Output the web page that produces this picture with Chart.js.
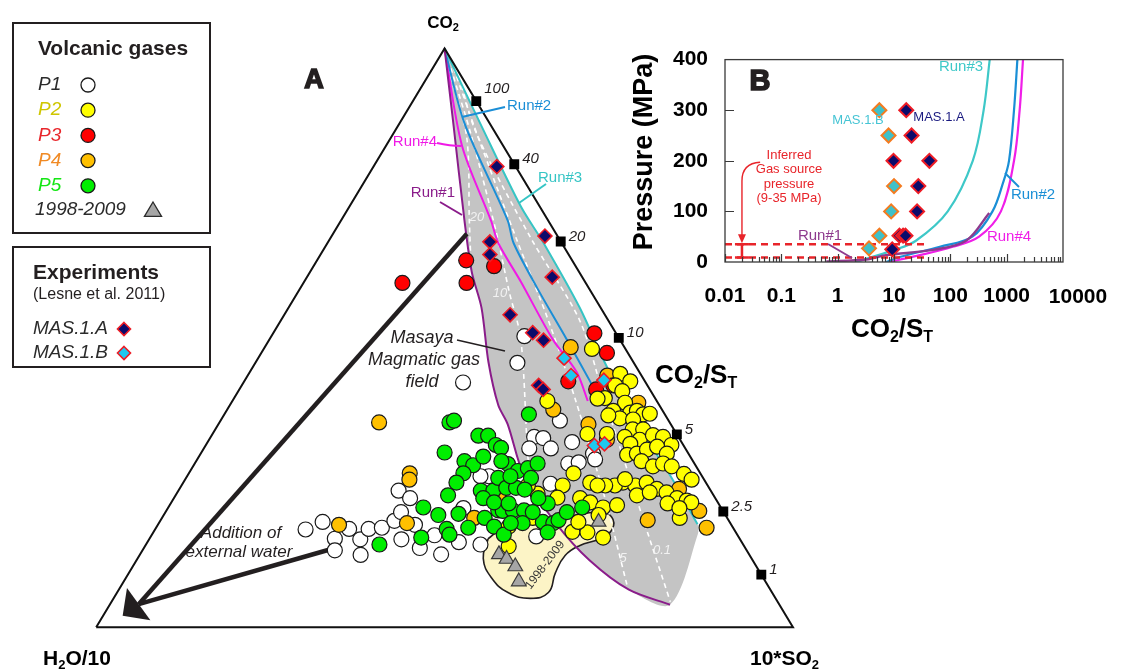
<!DOCTYPE html>
<html lang="en">
<head>
<meta charset="utf-8">
<title>Masaya volcanic gases</title>
<script src="https://cdn.jsdelivr.net/npm/chart.js@4.4.1/dist/chart.umd.min.js"></script>
<style>
  html, body { margin: 0; padding: 0; background: #fff; }
  #quadro { position: relative; width: 1127px; height: 670px; overflow: hidden; }
  #graficoTernario { position: absolute; left: 0; top: 0; }
  #graficoPressao { position: absolute; left: 600px; top: 30px; }
</style>
</head>
<body>
<div id="quadro">
  <canvas id="graficoTernario" width="1127" height="670"></canvas>
  <canvas id="graficoPressao" width="527" height="340"></canvas>
</div>
<script>
const FONTE = '"Liberation Sans", Arial, sans-serif';

// ---------------------------------------------------------------------------
// Diagrama A - composicoes em % de [CO2, 10*SO2]; H2O/10 e o restante
// ---------------------------------------------------------------------------
const p1Brancos = [
  [42.3, 31.5], [45.7, 37.6], [50.3, 36.3], [35.7, 48.7], [32.9, 46.4], [32.7, 47.8],
  [30.9, 46.7], [30.9, 49.8], [32.0, 52.3], [30.0, 56.3], [28.3, 53.6], [28.5, 55.0],
  [29.0, 57.1], [24.8, 52.8], [15.7, 55.3], [26.1, 43.3], [16.9, 21.6], [18.2, 23.4],
  [15.3, 26.6], [13.3, 27.6], [17.0, 27.8], [15.2, 30.3], [12.5, 31.7], [17.0, 30.6],
  [17.2, 32.4], [18.4, 33.6], [23.6, 31.6], [22.3, 33.9], [19.9, 33.8], [15.2, 36.2],
  [17.7, 36.9], [13.7, 39.6], [15.9, 40.6], [12.6, 43.2], [14.7, 44.7], [20.6, 42.4],
  [14.3, 48.0], [26.1, 42.1]
];

const p2Amarelos = [
  [48.1, 47.1], [43.8, 53.3], [41.8, 53.6], [42.5, 55.4], [39.6, 53.2], [40.8, 55.1],
  [39.5, 52.2], [38.8, 56.5], [37.4, 55.5], [37.1, 58.1], [37.4, 58.9], [36.8, 60.1],
  [36.9, 61.0], [36.1, 57.1], [35.9, 59.1], [36.6, 55.2], [33.4, 53.8], [34.2, 59.9],
  [34.2, 61.4], [33.4, 56.6], [32.9, 59.4], [32.4, 61.8], [33.2, 63.3], [32.9, 64.9],
  [31.5, 66.8], [31.7, 60.8], [29.8, 61.3], [30.0, 62.6], [30.7, 63.7], [31.2, 64.9],
  [30.0, 66.9], [28.7, 63.9], [27.8, 66.0], [28.3, 67.2], [27.8, 68.7], [26.5, 71.1],
  [25.5, 72.7], [25.0, 63.1], [24.5, 65.1], [25.0, 66.5], [23.9, 68.5], [23.3, 70.2],
  [22.3, 72.2], [21.9, 73.8], [22.8, 66.2], [23.3, 67.8], [18.9, 74.3], [24.5, 62.2],
  [24.5, 60.8], [25.6, 63.1], [15.5, 65.0], [21.6, 74.6], [21.4, 71.3], [20.6, 73.4],
  [24.5, 54.7], [22.4, 55.0], [25.0, 58.4], [24.5, 59.7], [22.3, 58.3], [21.6, 60.1],
  [20.7, 62.4], [21.1, 64.2], [16.5, 60.1], [16.4, 62.3], [18.2, 60.1], [19.4, 62.4],
  [26.6, 55.2], [17.4, 50.5], [14.0, 52.2], [18.9, 53.2], [23.1, 51.8], [24.5, 49.7],
  [39.1, 45.2]
];

const p3Vermelhos = [
  [59.5, 14.2], [63.4, 21.4], [59.5, 23.4], [62.4, 25.9], [50.8, 46.1], [47.4, 49.6],
  [42.5, 46.5], [41.1, 51.2], [41.8, 53.3]
];

const p4Laranjas = [
  [35.4, 22.9], [26.6, 31.7], [25.5, 32.2], [17.7, 26.0], [18.0, 35.6], [18.9, 44.8],
  [48.4, 43.9], [37.6, 46.8], [35.1, 53.1], [32.4, 57.1], [23.9, 71.7], [20.1, 76.5],
  [17.2, 79.0], [18.5, 69.9], [43.5, 51.6], [36.8, 55.4], [38.8, 58.4], [22.8, 46.3]
];

const p5Verdes = [
  [35.4, 33.0], [35.7, 33.5], [33.1, 38.3], [33.1, 39.7], [31.5, 41.6], [31.0, 42.6],
  [30.2, 34.9], [28.7, 38.5], [28.0, 40.1], [29.5, 40.8], [26.6, 39.4], [25.0, 39.2],
  [22.8, 39.1], [23.6, 43.4], [23.6, 45.2], [22.3, 44.4], [20.7, 36.6], [19.4, 39.4],
  [19.6, 42.2], [18.9, 46.3], [17.4, 48.4], [17.0, 41.8], [16.0, 42.7], [17.2, 44.8],
  [15.5, 38.9], [14.3, 33.5], [20.2, 47.6], [28.2, 45.0], [27.0, 47.0], [27.5, 48.2],
  [28.3, 49.2], [25.8, 49.5], [25.8, 44.8], [24.1, 46.8], [24.1, 48.2], [23.8, 49.6],
  [20.1, 48.3], [20.2, 49.7], [20.2, 51.3], [18.0, 52.2], [18.2, 55.0], [21.4, 54.1],
  [18.0, 56.6], [16.4, 56.6], [16.0, 50.5], [22.3, 52.3], [19.9, 52.7], [36.8, 43.7],
  [26.1, 46.4], [21.6, 46.3], [21.4, 48.5], [18.5, 57.1], [19.9, 57.6], [20.7, 59.4],
  [18.0, 50.5], [28.7, 43.8]
];

const serie1998a2009 = [[12.6, 51.5], [11.8, 53.0], [10.5, 54.9], [7.9, 56.7], [18.2, 63.0]];

const mas1A = [
  [79.6, 17.7], [67.6, 30.6], [66.6, 23.2], [64.4, 24.3], [60.5, 35.2], [54.0, 32.4],
  [50.9, 37.2], [49.6, 39.4], [41.8, 42.6], [41.1, 43.6]
];
const mas1B = [[46.5, 43.9], [43.5, 46.4], [42.7, 51.5], [31.4, 55.8], [31.7, 57.1]];

// curvas dos modelos (Run#1 a Run#4)
const run1 = [
  [100, 0], [86.6, 8.0], [70.3, 17.7], [61.4, 23.2], [55.2, 27.7], [45.8, 33.4], [38.4, 38.5],
  [35.1, 41.5], [26.2, 48.3], [17.8, 57.2], [11.6, 65.0], [6.5, 73.2], [3.9, 80.4]
];
const run2 = [[100, 0], [87.1, 9.3], [70.3, 23.9], [66.4, 26.7], [58.6, 34.0], [49.7, 42.7], [41.8, 50.3]];
const run3 = [
  [100, 0], [86.6, 12.0], [72.7, 24.6], [66.4, 31.0], [55.2, 41.8], [45.1, 50.7],
  [34.6, 60.6], [26.2, 69.3], [17.8, 77.4]
];
const run4 = [[100, 0], [83.2, 10.9], [70.3, 21.5], [66.4, 24.5], [59.7, 31.1], [49.7, 40.7], [44.1, 46.9], [39.1, 51.0]];
const cantoCampo = [16.1, 78.3];

// linhas tracejadas brancas (20, 10, 5 e 0.1)
const iso20 = [[96.6, 2.2], [84.9, 10.7], [70.3, 18.4], [63.9, 21.8]];
const iso10 = [[96.6, 2.6], [84.9, 11.4], [68.1, 23.4], [58.1, 30.2], [49.7, 36.1], [30.0, 46.9], [28.2, 48.0]];
const iso5 = [[96.6, 3.0], [84.9, 12.3], [67.3, 26.6], [53.0, 38.4], [39.6, 48.9], [22.8, 61.5], [7.2, 72.6]];
const iso01 = [[96.6, 3.5], [85.7, 11.6], [67.3, 28.7], [53.0, 42.9], [39.6, 53.1], [21.1, 67.3], [4.4, 80.2]];

// campo 1998-2009
const mancha1998 = [
  [15.3, 48.6], [11.9, 49.6], [8.6, 52.4], [6.0, 56.1], [5.0, 59.8], [6.0, 61.9], [9.4, 61.2],
  [12.4, 61.1], [14.1, 62.3], [15.3, 64.6], [16.9, 65.6], [19.1, 64.4], [19.8, 62.3],
  [19.5, 59.6], [18.6, 57.3], [17.8, 53.4], [16.9, 49.7], [15.3, 48.6]
];

// escala CO2/ST no lado direito
const razoesCO2ST = [100, 40, 20, 10, 5, 2.5, 1];

// setas "Addition of external water"
const setaLonga = [[68.0, 19.2], [4.0, 4.1]];
const setaCurta = [[13.4, 26.7], [4.0, 4.1]];
const setaPonta = [2.0, 2.8];

// ---------------------------------------------------------------------------
// Painel B - pressao (MPa) x CO2/ST
// ---------------------------------------------------------------------------
const decadasCO2ST = [0.01, 0.1, 1, 10, 100, 1000, 10000];
const run1B = [[0.63, 1], [3.2, 5], [7.2, 13.5], [48.6, 24], [190, 42], [490, 97]];
const run2B = [[7.3, 0], [12.6, 10], [65, 30], [246, 50], [560, 100], [870, 158], [1100, 200], [1350, 300], [1550, 400]];
const run3B = [[2.1, 0], [9.5, 23], [24.5, 42], [90, 100], [250, 200], [390, 300], [500, 400]];
const run4B = [[8.3, 0], [21, 10], [110, 30], [324, 50], [790, 100], [1350, 200], [1700, 300], [1950, 400]];
const mas1BPressao = [[5.5, 300], [8, 250], [10, 150], [8.9, 100], [5.5, 52], [3.6, 27]];
const mas1APressao = [[16.5, 300], [20.5, 250], [9.8, 200], [42.5, 200], [27, 150], [25.7, 100], [12.5, 52], [14.5, 52], [16, 52], [9.3, 25]];
const pressaoFonte = [9, 35];
const fimTracejado = [42, 38];
const razaoBarra = 0.02;

// ---------------------------------------------------------------------------
// Utilitarios
// ---------------------------------------------------------------------------
const ternario = pares => pares.map(([co2, so2]) => ({ x: so2 + co2 / 2, y: co2 }));

function pontos(pares, cor, ordem, estilo = 'circle', raio = 7.5, borda = '#1a1a1a', larg = 1.2) {
  return {
    type: 'scatter', data: ternario(pares), pointStyle: estilo, pointRadius: raio,
    pointHoverRadius: raio, pointBackgroundColor: cor, pointBorderColor: borda,
    pointBorderWidth: larg, order: ordem
  };
}

function linha(pares, cor, larg, ordem, extra = {}) {
  return Object.assign({
    type: 'line', data: ternario(pares), borderColor: cor, borderWidth: larg,
    pointRadius: 0, fill: false, tension: 0.3, order: ordem
  }, extra);
}

function escreve(ctx, texto, x, y, fonte, cor, alinh = 'center') {
  ctx.font = fonte;
  ctx.fillStyle = cor;
  ctx.textAlign = alinh;
  ctx.textBaseline = 'middle';
  ctx.fillText(texto, x, y);
}

// texto com indices (CO2, ST...) - partes: [texto, ehIndice]
function escreveIndice(ctx, partes, x, y, tam, alinh = 'left') {
  const base = `bold ${tam}px ${FONTE}`;
  const peq = `bold ${Math.round(tam * 0.62)}px ${FONTE}`;
  let largura = 0;
  partes.forEach(([t, sub]) => { ctx.font = sub ? peq : base; largura += ctx.measureText(t).width; });
  let cx = alinh === 'center' ? x - largura / 2 : x;
  ctx.textAlign = 'left';
  ctx.textBaseline = 'alphabetic';
  ctx.fillStyle = '#000';
  partes.forEach(([t, sub]) => {
    ctx.font = sub ? peq : base;
    ctx.fillText(t, cx, sub ? y + tam * 0.2 : y);
    cx += ctx.measureText(t).width;
  });
}

function marcador(ctx, estilo, x, y, r, cor, borda, larg) {
  ctx.beginPath();
  if (estilo === 'circle') {
    ctx.arc(x, y, r, 0, Math.PI * 2);
  } else if (estilo === 'triangle') {
    ctx.moveTo(x, y - r);
    ctx.lineTo(x + r * 0.95, y + r * 0.6);
    ctx.lineTo(x - r * 0.95, y + r * 0.6);
    ctx.closePath();
  } else {
    ctx.moveTo(x, y - r); ctx.lineTo(x + r, y); ctx.lineTo(x, y + r); ctx.lineTo(x - r, y);
    ctx.closePath();
  }
  ctx.fillStyle = cor; ctx.fill();
  ctx.strokeStyle = borda; ctx.lineWidth = larg; ctx.stroke();
}

// ---------------------------------------------------------------------------
// Legendas, rotulos e seta do diagrama A
// ---------------------------------------------------------------------------
const gruposVulcanicos = [
  { nome: 'P1', cor: '#ffffff', corTexto: '#2b2b2b' },
  { nome: 'P2', cor: '#ffff00', corTexto: '#cfc600' },
  { nome: 'P3', cor: '#ff0000', corTexto: '#e8262b' },
  { nome: 'P4', cor: '#ffc000', corTexto: '#f08a24' },
  { nome: 'P5', cor: '#00ee00', corTexto: '#14e614' }
];

const decoracaoA = {
  id: 'decoracaoA',
  afterDatasetsDraw(chart) {
    const { ctx, scales: { x, y } } = chart;
    const pt = (c, s) => ({ x: x.getPixelForValue(s + c / 2), y: y.getPixelForValue(c) });
    ctx.save();

    // ponta da seta
    const base = pt(setaLonga[1][0], setaLonga[1][1]);
    const ponta = pt(setaPonta[0], setaPonta[1]);
    const dx = ponta.x - base.x, dy = ponta.y - base.y, n = Math.hypot(dx, dy);
    const nx = -dy / n, ny = dx / n, meia = 20;
    ctx.fillStyle = '#231f20';
    ctx.beginPath();
    ctx.moveTo(ponta.x, ponta.y);
    ctx.lineTo(base.x + nx * meia, base.y + ny * meia);
    ctx.lineTo(base.x - nx * meia, base.y - ny * meia);
    ctx.closePath();
    ctx.fill();

    // valores de CO2/ST ao lado dos quadrados
    razoesCO2ST.forEach((r, i) => {
      const p = pt(100 * r / (r + 10), 1000 / (r + 10));
      escreve(ctx, String(r), p.x + 8, p.y - (i === 0 ? 12 : 5), `italic 15px ${FONTE}`, '#231f20', 'left');
    });

    // rotulos das linhas tracejadas
    const cinzaClaro = '#f2f2f2';
    escreve(ctx, '20', 477, 217, `italic 13px ${FONTE}`, cinzaClaro);
    escreve(ctx, '10', 500, 293, `italic 13px ${FONTE}`, cinzaClaro);
    escreve(ctx, '5', 623, 558, `italic 13px ${FONTE}`, cinzaClaro);
    escreve(ctx, '0.1', 662, 550, `italic 13px ${FONTE}`, cinzaClaro);

    // rotulos dos modelos e linhas de chamada
    ctx.lineWidth = 2;
    ctx.strokeStyle = '#1b8ed6';
    ctx.beginPath(); ctx.moveTo(462, 117); ctx.lineTo(505, 107); ctx.stroke();
    escreve(ctx, 'Run#2', 507, 106, `15px ${FONTE}`, '#1b8ed6', 'left');

    ctx.strokeStyle = '#f019e6';
    ctx.beginPath(); ctx.moveTo(437, 143); ctx.quadraticCurveTo(450, 146, 461, 146); ctx.stroke();
    escreve(ctx, 'Run#4', 437, 142, `15px ${FONTE}`, '#f019e6', 'right');

    ctx.strokeStyle = '#8a1c8a';
    ctx.beginPath(); ctx.moveTo(440, 202); ctx.lineTo(462, 215); ctx.stroke();
    escreve(ctx, 'Run#1', 455, 193, `15px ${FONTE}`, '#8a1c8a', 'right');

    ctx.strokeStyle = '#36c5c5';
    ctx.beginPath(); ctx.moveTo(519, 203); ctx.lineTo(546, 184); ctx.stroke();
    escreve(ctx, 'Run#3', 538, 178, `15px ${FONTE}`, '#36c5c5', 'left');

    // campo magmatico
    ctx.strokeStyle = '#231f20';
    ctx.lineWidth = 1.5;
    ctx.beginPath(); ctx.moveTo(457, 340); ctx.lineTo(505, 351); ctx.stroke();
    escreve(ctx, 'Masaya', 422, 338, `italic 18px ${FONTE}`, '#231f20');
    escreve(ctx, 'Magmatic gas', 424, 360, `italic 18px ${FONTE}`, '#231f20');
    escreve(ctx, 'field', 422, 382, `italic 18px ${FONTE}`, '#231f20');

    escreve(ctx, 'Addition of', 241, 533, `italic 17px ${FONTE}`, '#231f20');
    escreve(ctx, 'external water', 239, 552, `italic 17px ${FONTE}`, '#231f20');

    ctx.save();
    ctx.translate(545, 565);
    ctx.rotate(-53 * Math.PI / 180);
    escreve(ctx, '1998-2009', 0, 0, `12px ${FONTE}`, '#3a3a3a');
    ctx.restore();

    // vertices e titulo
    escreveIndice(ctx, [['CO', false], ['2', true]], 443, 28, 17, 'center');
    escreveIndice(ctx, [['H', false], ['2', true], ['O/10', false]], 43, 665, 21);
    escreveIndice(ctx, [['10*SO', false], ['2', true]], 750, 665, 21);
    escreveIndice(ctx, [['CO', false], ['2', true], ['/S', false], ['T', true]], 655, 383, 26);

    ctx.font = `900 27px ${FONTE}`;
    ctx.textAlign = 'center'; ctx.textBaseline = 'middle';
    ctx.fillStyle = '#231f20'; ctx.strokeStyle = '#231f20'; ctx.lineWidth = 1.6;
    ctx.strokeText('A', 314, 81);
    ctx.fillText('A', 314, 81);

    ctx.restore();
  },

  afterDraw(chart) {
    const ctx = chart.ctx;
    ctx.save();
    ctx.lineWidth = 2;
    ctx.strokeStyle = '#231f20';
    ctx.strokeRect(13, 23, 197, 210);
    ctx.strokeRect(13, 247, 197, 120);

    escreve(ctx, 'Volcanic gases', 113, 49, `bold 21px ${FONTE}`, '#231f20');
    gruposVulcanicos.forEach((g, i) => {
      const yy = 85 + i * 25.2;
      escreve(ctx, g.nome, 38, yy, `italic 19px ${FONTE}`, g.corTexto, 'left');
      marcador(ctx, 'circle', 88, yy, 7, g.cor, '#1a1a1a', 1.3);
    });
    escreve(ctx, '1998-2009', 35, 210, `italic 19px ${FONTE}`, '#2b2b2b', 'left');
    marcador(ctx, 'triangle', 153, 211, 9, '#a6a6a6', '#2b2b2b', 1.3);

    escreve(ctx, 'Experiments', 33, 273, `bold 21px ${FONTE}`, '#231f20', 'left');
    escreve(ctx, '(Lesne et al. 2011)', 33, 295, `16px ${FONTE}`, '#231f20', 'left');
    escreve(ctx, 'MAS.1.A', 33, 329, `italic 19px ${FONTE}`, '#2b2b2b', 'left');
    marcador(ctx, 'diamond', 124, 329, 6.5, '#0b0b6b', '#ee1c25', 1.6);
    escreve(ctx, 'MAS.1.B', 33, 353, `italic 19px ${FONTE}`, '#2b2b2b', 'left');
    marcador(ctx, 'diamond', 124, 353, 6.5, '#1ec8f0', '#ee1c25', 1.6);
    ctx.restore();
  }
};

// ---------------------------------------------------------------------------
// Diagrama A
// ---------------------------------------------------------------------------
const campoMagmatico = run1.concat([cantoCampo], run3.slice().reverse());
const ladosTriangulo = [[0, 0], [0, 100], [100, 0], [0, 0]];
const quadradosRazao = razoesCO2ST.map(r => [100 * r / (r + 10), 1000 / (r + 10)]);

const graficoTernario = new Chart(document.getElementById('graficoTernario'), {
  type: 'scatter',
  data: {
    datasets: [
      linha(campoMagmatico, 'rgba(0,0,0,0)', 0, 100, { fill: 'shape', backgroundColor: '#c4c4c4' }),
      linha(mancha1998, '#231f20', 1.6, 95, { fill: 'shape', backgroundColor: '#fcf4c6', tension: 0.45 }),
      linha(iso20, '#ffffff', 1.6, 90, { borderDash: [5, 4] }),
      linha(iso10, '#ffffff', 1.6, 90, { borderDash: [5, 4] }),
      linha(iso5, '#ffffff', 1.6, 90, { borderDash: [5, 4] }),
      linha(iso01, '#ffffff', 1.6, 90, { borderDash: [5, 4] }),
      linha(run1, '#8a1c8a', 2, 85),
      linha(run3, '#36c5c5', 2, 85),
      linha(run2, '#1b8ed6', 2, 85),
      linha(run4, '#f019e6', 2, 85),
      linha(ladosTriangulo, '#111111', 2, 80, { tension: 0 }),
      linha(setaLonga, '#231f20', 4.5, 78, { tension: 0 }),
      linha(setaCurta, '#231f20', 4.5, 78, { tension: 0 }),
      pontos(p1Brancos, '#ffffff', 70),
      pontos(p4Laranjas, '#ffc000', 65),
      pontos(p3Vermelhos, '#ff0000', 60),
      pontos(p2Amarelos, '#ffff00', 55),
      pontos(p5Verdes, '#00ee00', 50),
      pontos(mas1A, '#0b0b6b', 20, 'rectRot', 7, '#ee1c25', 1.6),
      pontos(mas1B, '#1ec8f0', 20, 'rectRot', 7, '#ee1c25', 1.6),
      pontos(serie1998a2009, '#a6a6a6', 15, 'triangle', 8.5, '#3a3a3a', 1.2),
      pontos(quadradosRazao, '#000000', 5, 'rect', 7, '#000000', 0)
    ]
  },
  options: {
    responsive: false,
    animation: false,
    devicePixelRatio: 1,
    layout: { padding: 0 },
    events: [],
    plugins: { legend: { display: false }, tooltip: { enabled: false } },
    scales: {
      x: { type: 'linear', display: false, min: -12.412, max: 146.544 },
      y: { type: 'linear', display: false, min: -5.7047, max: 106.711 }
    }
  },
  plugins: [decoracaoA]
});

// ---------------------------------------------------------------------------
// Painel B
// ---------------------------------------------------------------------------
const molduraB = {
  id: 'molduraB',
  afterDatasetsDraw(chart) {
    const { ctx, chartArea: a, scales: { x, y } } = chart;
    ctx.save();
    ctx.strokeStyle = '#3a3a3a';
    ctx.lineWidth = 1.3;
    ctx.strokeRect(a.left, a.top, a.right - a.left, a.bottom - a.top);

    // marcas internas
    ctx.beginPath();
    [100, 200, 300].forEach(v => {
      const py = Math.round(y.getPixelForValue(v)) + 0.5;
      ctx.moveTo(a.left, py); ctx.lineTo(a.left + 9, py);
    });
    decadasCO2ST.slice(0, -1).forEach(d => {
      for (let k = 1; k < 10; k++) {
        const px = Math.round(x.getPixelForValue(d * k)) + 0.5;
        ctx.moveTo(px, a.bottom); ctx.lineTo(px, a.bottom - (k === 1 ? 8 : 5));
      }
    });
    ctx.lineWidth = 1.2;
    ctx.stroke();

    // seta da pressao inferida
    const x0 = x.getPixelForValue(razaoBarra);
    const yTopo = y.getPixelForValue(pressaoFonte[1]);
    ctx.strokeStyle = '#e8242a';
    ctx.fillStyle = '#e8242a';
    ctx.lineWidth = 1.4;
    ctx.beginPath();
    ctx.moveTo(x.getPixelForValue(0.042), y.getPixelForValue(197));
    ctx.quadraticCurveTo(x0, y.getPixelForValue(195), x0, y.getPixelForValue(160));
    ctx.lineTo(x0, yTopo - 8);
    ctx.stroke();
    ctx.beginPath();
    ctx.moveTo(x0, yTopo - 1); ctx.lineTo(x0 - 4, yTopo - 10); ctx.lineTo(x0 + 4, yTopo - 10);
    ctx.closePath(); ctx.fill();

    ctx.translate(-600, -30);
    const f13 = `13px ${FONTE}`;
    escreve(ctx, 'Inferred', 789, 155, f13, '#e8242a');
    escreve(ctx, 'Gas source', 789, 169, f13, '#e8242a');
    escreve(ctx, 'pressure', 789, 184, f13, '#e8242a');
    escreve(ctx, '(9-35 MPa)', 789, 198, f13, '#e8242a');

    escreve(ctx, 'MAS.1.B', 858, 120, f13, '#45c4d4');
    escreve(ctx, 'MAS.1.A', 939, 117, f13, '#1a1a80');

    const f15 = `15px ${FONTE}`;
    escreve(ctx, 'Run#3', 961, 67, f15, '#3ec8c8');
    escreve(ctx, 'Run#2', 1033, 195, f15, '#1a8fd6');
    escreve(ctx, 'Run#4', 1009, 237, f15, '#f01ee8');
    escreve(ctx, 'Run#1', 820, 236, f15, '#8e3a8e');
    ctx.lineWidth = 2;
    ctx.strokeStyle = '#1a8fd6';
    ctx.beginPath(); ctx.moveTo(1005, 173); ctx.lineTo(1019, 187); ctx.stroke();
    ctx.strokeStyle = '#8e3a8e';
    ctx.beginPath(); ctx.moveTo(828, 244); ctx.lineTo(852, 258); ctx.stroke();

    ctx.font = `900 29px ${FONTE}`;
    ctx.textAlign = 'center'; ctx.textBaseline = 'middle';
    ctx.fillStyle = '#231f20'; ctx.strokeStyle = '#231f20'; ctx.lineWidth = 1.6;
    ctx.strokeText('B', 760, 82);
    ctx.fillText('B', 760, 82);
    ctx.restore();
  },
  afterDraw(chart) {
    const ctx = chart.ctx;
    ctx.save();
    ctx.translate(-600, -30);
    // o ultimo rotulo do eixo fica deslocado para a direita, fora da moldura
    escreve(ctx, '10000', 1078, 297, `bold 21px ${FONTE}`, '#000');
    escreveIndice(ctx, [['CO', false], ['2', true], ['/S', false], ['T', true]], 892, 337, 26, 'center');
    ctx.translate(645, 152);
    ctx.rotate(-Math.PI / 2);
    escreve(ctx, 'Pressure (MPa)', 0, 0, `bold 27px ${FONTE}`, '#000');
    ctx.restore();
  }
};

const serieB = (pares, cor, larg, ordem, extra = {}) => Object.assign({
  type: 'line', data: pares.map(([x, y]) => ({ x, y })), borderColor: cor, borderWidth: larg,
  pointRadius: 0, tension: 0.35, fill: false, order: ordem
}, extra);

const pontosB = (pares, cor, borda, ordem) => ({
  type: 'scatter', data: pares.map(([x, y]) => ({ x, y })), pointStyle: 'rectRot', pointRadius: 7,
  pointHoverRadius: 7, pointBackgroundColor: cor, pointBorderColor: borda, pointBorderWidth: 2, order: ordem
});

const graficoPressao = new Chart(document.getElementById('graficoPressao'), {
  type: 'scatter',
  data: {
    datasets: [
      serieB(run3B, '#3ec8c8', 2.2, 30),
      serieB(run2B, '#1a8fd6', 2.2, 30),
      serieB(run4B, '#f01ee8', 2.2, 30),
      serieB(run1B, '#8e3a8e', 2.4, 25),
      serieB([[0.01, pressaoFonte[1]], [fimTracejado[1], pressaoFonte[1]]], '#e8242a', 2.5, 20, { borderDash: [7, 5], tension: 0 }),
      serieB([[0.01, pressaoFonte[0]], [fimTracejado[0], pressaoFonte[0]]], '#e8242a', 2.5, 20, { borderDash: [7, 5], tension: 0 }),
      serieB([[razaoBarra, pressaoFonte[0]], [razaoBarra, pressaoFonte[1]]], '#e8242a', 2.5, 15, {
        tension: 0, pointRadius: 7, pointStyle: 'line', pointBorderColor: '#e8242a', pointBorderWidth: 2.5
      }),
      pontosB(mas1BPressao, '#3fc1c9', '#f47b20', 5),
      pontosB(mas1APressao, '#0b0b6b', '#ee1c25', 5)
    ]
  },
  options: {
    responsive: false,
    animation: false,
    devicePixelRatio: 1,
    events: [],
    layout: { padding: { left: 0, top: 24, right: 64, bottom: 0 } },
    plugins: { legend: { display: false }, tooltip: { enabled: false } },
    scales: {
      x: {
        type: 'logarithmic', min: 0.01, max: 10000, position: 'bottom',
        afterFit: s => { s.height = 108; },
        afterBuildTicks: s => { s.ticks = decadasCO2ST.map(v => ({ value: v })); },
        grid: { display: false, drawTicks: false },
        border: { display: false },
        ticks: {
          font: { family: FONTE, size: 21, weight: 'bold' }, color: '#000', padding: 22,
          autoSkip: false, maxRotation: 0,
          callback: v => (v >= 10000 ? '' : String(v))
        }
      },
      y: {
        min: 0, max: 400,
        afterFit: s => { s.width = 125; },
        grid: { display: false, drawTicks: false },
        border: { display: false },
        ticks: { stepSize: 100, font: { family: FONTE, size: 21, weight: 'bold' }, color: '#000', padding: 17 }
      }
    }
  },
  plugins: [molduraB]
});
</script>
</body>
</html>
